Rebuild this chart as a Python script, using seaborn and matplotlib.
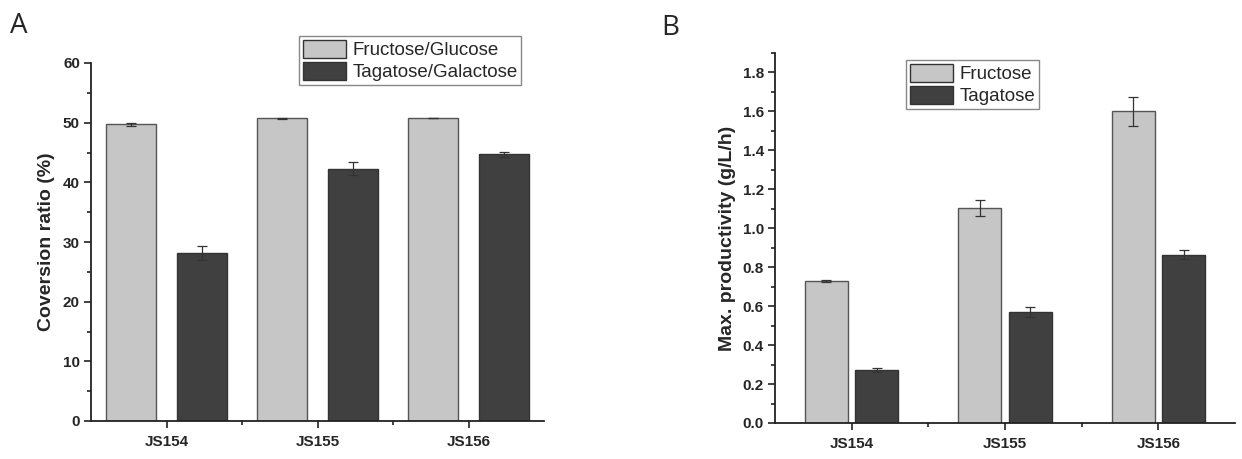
import seaborn as sns
import pandas as pd
from matplotlib import pyplot as plt
from matplotlib.ticker import MultipleLocator

strains = ["JS154", "JS155", "JS156"]

# panel A: conversion ratio (%)
conv_labels = ["Fructose/Glucose", "Tagatose/Galactose"]
conv_fru = [49.7, 50.7, 50.8]
conv_fru_err = [0.3, 0.05, 0.05]
conv_tag = [28.2, 42.3, 44.7]
conv_tag_err = [1.2, 1.1, 0.4]

# panel B: max productivity (g/L/h)
prod_labels = ["Fructose", "Tagatose"]
prod_fru = [0.73, 1.105, 1.60]
prod_fru_err = [0.004, 0.04, 0.075]
prod_tag = [0.272, 0.57, 0.865]
prod_tag_err = [0.01, 0.025, 0.022]

sns.set_theme(style="ticks")
plt.rcParams['font.family'] = ['Liberation Sans', 'DejaVu Sans']

light = "#c6c6c6"
dark = "#404040"

W, H = 1242, 459
fig = plt.figure(figsize=(W / 100, H / 100), dpi=100)


def px_axes(left, right, top, bottom):
    return fig.add_axes([left / W, 1 - bottom / H, (right - left) / W, (bottom - top) / H])


def draw_panel(ax, labels, v1, e1, v2, e2, width, gap, ylim, major, minor, ylabel, fmt):
    df = pd.DataFrame({
        "strain": strains * 2,
        "value": v1 + v2,
        "series": [labels[0]] * 3 + [labels[1]] * 3,
    })
    sns.barplot(data=df, x="strain", y="value", hue="series", hue_order=labels,
                palette=[light, dark], width=width, gap=gap, ax=ax,
                edgecolor="#333333", linewidth=1.0, errorbar=None, saturation=1)
    # light bars have a grey outline
    for p in ax.containers[0]:
        p.set_edgecolor("#555555")
    # error bars at the positions seaborn used
    for cont, errs in zip(ax.containers, [e1, e2]):
        xs = [p.get_x() + p.get_width() / 2 for p in cont]
        ys = [p.get_height() for p in cont]
        ax.errorbar(xs, ys, yerr=errs, fmt="none", ecolor="#333333",
                    elinewidth=0.9, capsize=3.5, capthick=0.9, zorder=5)

    ax.set_xlim(-0.5, 2.5)
    ax.set_ylim(*ylim)
    ax.yaxis.set_major_locator(MultipleLocator(major))
    ax.yaxis.set_minor_locator(MultipleLocator(minor))
    ax.yaxis.set_major_formatter(fmt)
    ax.set_xticks([0, 1, 2])
    ax.set_xticks([0.5, 1.5], minor=True)
    ax.set_xticklabels(strains)
    ax.tick_params(axis="both", which="major", direction="out", length=5, width=1.2,
                   labelsize=11, color="#222222", pad=3)
    ax.tick_params(axis="x", which="major", pad=5)
    ax.tick_params(axis="both", which="minor", direction="out", length=3, width=1.2,
                   color="#222222")
    for lab in ax.get_xticklabels() + ax.get_yticklabels():
        lab.set_fontweight("bold")
    ax.set_xlabel("")
    ax.set_ylabel(ylabel, fontsize=14, fontweight="bold")
    for s in ["top", "right"]:
        ax.spines[s].set_visible(False)
    for s in ["left", "bottom"]:
        ax.spines[s].set_linewidth(1.3)
        ax.spines[s].set_color("#222222")


legend_kw = dict(loc="upper left", fontsize=13.5, fancybox=False, edgecolor="#888888",
                 framealpha=1, borderpad=0.2, handlelength=2.3, handleheight=1.1,
                 labelspacing=0.15, handletextpad=0.35, borderaxespad=0)

# panel A
axA = px_axes(91, 544, 63, 421)
draw_panel(axA, conv_labels, conv_fru, conv_fru_err, conv_tag, conv_tag_err,
           width=0.94, gap=0.3, ylim=(0, 60), major=10, minor=5,
           ylabel="Coversion ratio (%)", fmt="{x:.0f}")
axA.legend(bbox_to_anchor=(0.459, 1.075), **legend_kw)
axA.yaxis.set_label_coords(-0.079, 0.5)

# panel B
axB = px_axes(775, 1235, 53, 423)
draw_panel(axB, prod_labels, prod_fru, prod_fru_err, prod_tag, prod_tag_err,
           width=0.66, gap=0.15, ylim=(0, 1.9), major=0.2, minor=0.1,
           ylabel="Max. productivity (g/L/h)", fmt="{x:.1f}")
axB.legend(bbox_to_anchor=(0.285, 0.981), **legend_kw)
axB.yaxis.set_label_coords(-0.085, 0.5)

fig.text(10 / W, 1 - 33 / H, "A", fontsize=20, family=["Open Sans", "DejaVu Sans"])
fig.text(661 / W, 1 - 35 / H, "B", fontsize=20, family=["Open Sans", "DejaVu Sans"])

fig.savefig("out.png", dpi=100)
